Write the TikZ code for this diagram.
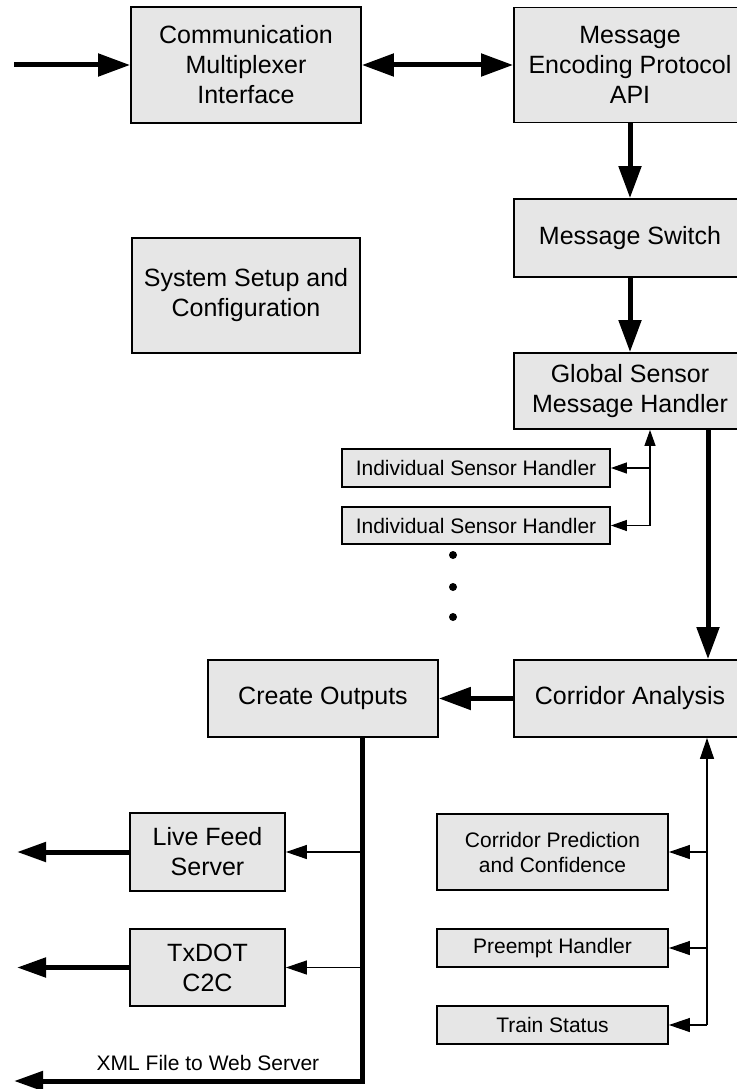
\documentclass[tikz,border=0pt]{standalone}
\usepackage{fontspec}
\setmainfont{Liberation Sans}
\usetikzlibrary{arrows.meta}
\definecolor{boxfill}{RGB}{230,230,230}
\begin{document}
\begin{tikzpicture}[x=1pt,y=-1pt,
  box/.style={draw, line width=1.8pt, fill=boxfill, inner sep=0pt, align=center, font=\fontsize{25}{30}\selectfont},
  sbox/.style={box, font=\fontsize{21}{25}\selectfont},
  bigarrow/.style={line width=5pt, -{Triangle[length=32pt,width=22pt]}},
  dblarrow/.style={line width=5pt, {Triangle[length=32pt,width=22pt]}-{Triangle[length=32pt,width=22pt]}},
  outarrow/.style={line width=5pt, line join=miter, -{Triangle[length=29pt,width=19pt]}},
  thinarrow/.style={line width=1.2pt, -{Triangle[length=21pt,width=14pt]}},
  tinyarrow/.style={line width=1.2pt, -{Triangle[length=16pt,width=11pt]}},
  dot/.style={circle, fill=black, inner sep=0pt, minimum size=8pt}
]
\useasboundingbox (0,0) rectangle (736,1089);

% boxes
\node[box, minimum width=230pt, minimum height=116pt] (cmi) at (246,65) {Communication\\Multiplexer\\Interface};
\node[box, minimum width=232pt, minimum height=115pt] (mep) at (630,65) {Message\\Encoding Protocol\\API};
\node[box, minimum width=232pt, minimum height=78pt] (ms) at (630,238) {Message Switch};
\node[box, minimum width=228pt, minimum height=115pt] (ssc) at (246,295.5) {System Setup and\\Configuration};
\node[box, minimum width=232pt, minimum height=76pt] (gsmh) at (630,391) {Global Sensor\\Message Handler};
\node[sbox, minimum width=268pt, minimum height=38pt] (ish1) at (476,468) {Individual Sensor Handler};
\node[sbox, minimum width=268pt, minimum height=37pt] (ish2) at (476,525.5) {Individual Sensor Handler};
\node[dot] (d1) at (453,555) {};
\node[dot] (d2) at (453,587) {};
\node[dot] (d3) at (453,617) {};
\node[box, minimum width=230pt, minimum height=77pt] (co) at (323,698.5) {Create Outputs};
\node[box, minimum width=232pt, minimum height=77pt] (ca) at (630,698.5) {Corridor Analysis};
\node[box, minimum width=155pt, minimum height=78pt] (lfs) at (207.5,852) {Live Feed\\Server};
\node[box, minimum width=155pt, minimum height=77pt] (tx) at (207.5,967.5) {TxDOT\\C2C};
\node[sbox, minimum width=231pt, minimum height=76pt] (cp) at (552.5,852) {Corridor Prediction\\and Confidence};
\node[sbox, minimum width=231pt, minimum height=38pt] (ph) at (552.5,948) {Preempt Handler};
\node[sbox, minimum width=231pt, minimum height=38pt] (ts) at (552.5,1025) {Train Status};
\node[font=\fontsize{21}{25}\selectfont, inner sep=0pt] (xml) at (208,1063) {XML File to Web Server};

% helper coordinates
\coordinate (in) at (14,65);
\coordinate (xr) at (708,0);
\coordinate (sx) at (650,0);
\coordinate (vx) at (362,0);
\coordinate (cxr) at (707,0);
\coordinate (xmlend) at (14,1081);
\coordinate (lfsout) at (17,852);
\coordinate (txout) at (17,967.5);

% connectors
\draw[bigarrow] (in) -- (cmi.west);
\draw[dblarrow] (cmi.east) -- (mep.west);
\draw[bigarrow] (mep.south) -- (ms.north);
\draw[bigarrow] (ms.south) -- (gsmh.north);
\draw[bigarrow] (gsmh.south -| xr) -- (ca.north -| xr);
\draw[bigarrow] (ca.west) -- (co.east);

\draw[tinyarrow] (ish2.east -| sx) -- (gsmh.south -| sx);
\draw[tinyarrow] (ish1.east -| sx) -- (ish1.east);
\draw[tinyarrow] (ish2.east -| sx) -- (ish2.east);

\draw[outarrow] (co.south -| vx) |- (xmlend);
\draw[thinarrow] (lfs.east -| vx) -- (lfs.east);
\draw[thinarrow] (tx.east -| vx) -- (tx.east);
\draw[outarrow] (lfs.west) -- (lfsout);
\draw[outarrow] (tx.west) -- (txout);

\draw[thinarrow] (ts.east -| cxr) -- (ca.south -| cxr);
\draw[thinarrow] (cp.east -| cxr) -- (cp.east);
\draw[thinarrow] (ph.east -| cxr) -- (ph.east);
\draw[thinarrow] (ts.east -| cxr) -- (ts.east);
\end{tikzpicture}
\end{document}
